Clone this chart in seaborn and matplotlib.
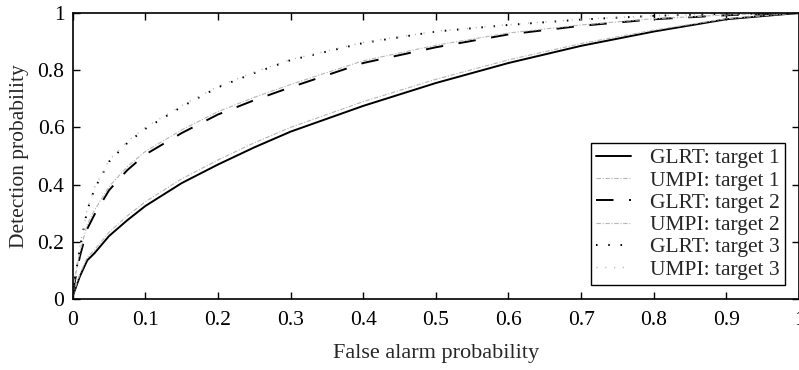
import matplotlib
matplotlib.use("Agg")
import matplotlib.pyplot as plt
import seaborn as sns
import pandas as pd

# False alarm probability grid
pfa = [0, 0.005, 0.01, 0.02, 0.03, 0.05, 0.075, 0.1, 0.15, 0.2, 0.25, 0.3,
       0.4, 0.5, 0.6, 0.7, 0.8, 0.9, 1.0]

glrt_t1 = [0.01, 0.045, 0.08, 0.135, 0.16, 0.22, 0.275, 0.325, 0.405, 0.47, 0.53,
           0.585, 0.675, 0.755, 0.825, 0.885, 0.935, 0.978, 1.0]
umpi_t1 = [0.012, 0.05, 0.088, 0.145, 0.172, 0.233, 0.29, 0.34, 0.42, 0.486, 0.546,
           0.6, 0.69, 0.768, 0.836, 0.893, 0.94, 0.98, 1.0]
glrt_t2 = [0.02, 0.09, 0.15, 0.245, 0.295, 0.38, 0.45, 0.505, 0.58, 0.645, 0.695,
           0.74, 0.825, 0.88, 0.925, 0.955, 0.978, 0.992, 1.0]
umpi_t2 = [0.025, 0.1, 0.165, 0.26, 0.31, 0.393, 0.462, 0.516, 0.591, 0.655, 0.705,
           0.75, 0.833, 0.887, 0.93, 0.958, 0.98, 0.993, 1.0]
glrt_t3 = [0.03, 0.10, 0.18, 0.31, 0.385, 0.48, 0.545, 0.595, 0.672, 0.74, 0.79,
           0.835, 0.895, 0.935, 0.958, 0.977, 0.99, 0.997, 1.0]
umpi_t3 = [0.032, 0.105, 0.185, 0.315, 0.39, 0.485, 0.55, 0.6, 0.676, 0.743, 0.793,
           0.837, 0.897, 0.936, 0.959, 0.978, 0.99, 0.997, 1.0]

labels = ["GLRT: target 1", "UMPI: target 1", "GLRT: target 2",
          "UMPI: target 2", "GLRT: target 3", "UMPI: target 3"]
series = [glrt_t1, umpi_t1, glrt_t2, umpi_t2, glrt_t3, umpi_t3]

xticks = [0, 0.1, 0.2, 0.3, 0.4, 0.5, 0.6, 0.7, 0.8, 0.9, 1]
xticklabels = ["0", "0.1", "0.2", "0.3", "0.4", "0.5", "0.6", "0.7", "0.8", "0.9", "1"]
yticks = [0, 0.2, 0.4, 0.6, 0.8, 1]
yticklabels = ["0", "0.2", "0.4", "0.6", "0.8", "1"]

sns.set_style("ticks")
plt.rcParams["font.family"] = ["Liberation Serif", "DejaVu Serif"]

fig = plt.figure(figsize=(7.99, 3.70), dpi=100)
ax = fig.add_axes([0.091, 0.192, 0.909, 0.773])

styles = [
    dict(color="black", lw=1.4, linestyle="-"),
    dict(color="#b5b5b5", lw=0.8, linestyle=(0, (4, 1.5, 1, 1.5))),
    dict(color="black", lw=1.4, linestyle=(0, (9, 8))),
    dict(color="#b5b5b5", lw=0.8, linestyle=(0, (4, 1.5, 1, 1.5))),
    dict(color="black", lw=1.4, linestyle=(0, (0.8, 5.5))),
    dict(color="#b5b5b5", lw=1.0, linestyle=(0, (0.8, 5.5))),
]

for vals, lab, st in zip(series, labels, styles):
    df = pd.DataFrame({"pfa": pfa, "pd": vals})
    sns.lineplot(data=df, x="pfa", y="pd", ax=ax, label=lab,
                 estimator=None, sort=True, **st)

ax.set_xlim(0, 1)
ax.set_ylim(0, 1)
ax.set_xticks(xticks)
ax.set_xticklabels(xticklabels)
ax.set_yticks(yticks)
ax.set_yticklabels(yticklabels)
ax.tick_params(direction="in", length=5, width=1, top=True, right=True,
               labelsize=15.5, colors="black")
ax.tick_params(axis="x", pad=9)
ax.tick_params(axis="y", pad=6)
for sp in ax.spines.values():
    sp.set_linewidth(1.2)
    sp.set_color("black")
ax.set_xlabel("False alarm probability", fontsize=16, labelpad=10)
ax.set_ylabel("Detection probability", fontsize=15.5, labelpad=6)

leg = ax.legend(loc="lower right", bbox_to_anchor=(0.981, 0.049), fontsize=15.5,
                frameon=True, fancybox=False, framealpha=1, edgecolor="black",
                handlelength=1.6, labelspacing=0.1, borderpad=0.25,
                handletextpad=0.9, borderaxespad=0)
leg.get_frame().set_linewidth(1.0)

fig.savefig("out.png", dpi=100)
